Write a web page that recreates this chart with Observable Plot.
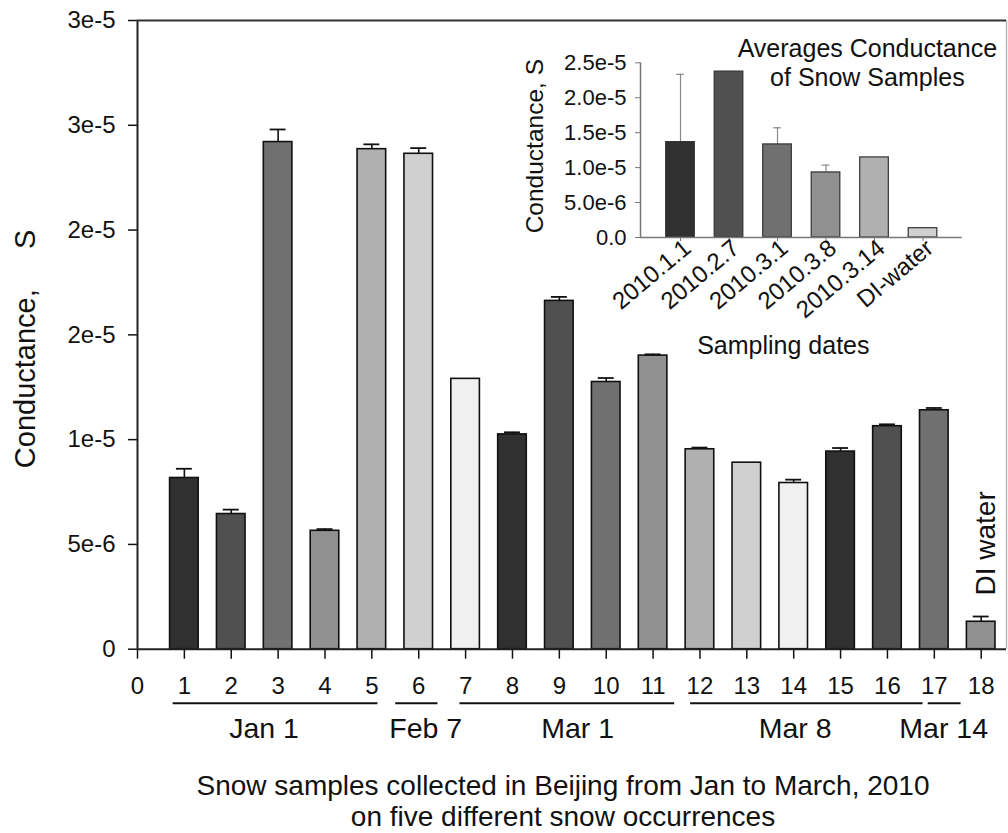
<!DOCTYPE html>
<html><head><meta charset="utf-8">
<script src="https://cdn.jsdelivr.net/npm/d3@7"></script>
<script src="https://cdn.jsdelivr.net/npm/@observablehq/plot@0.6"></script>
<style>
body{margin:0;background:#fff;}
#wrap{position:relative;width:1008px;height:833px;overflow:hidden;font-family:"Liberation Sans",Arial,sans-serif;background:#fff;}
#main,#inset{position:absolute;top:0;}
#main{left:0}
#inset{left:500px}
svg text{white-space:pre;}
#caption{position:absolute;left:100px;width:926px;top:770px;text-align:center;font-size:28px;line-height:31.3px;color:#111;}
</style></head><body>
<div id="wrap"><div id="main"></div><div id="inset"></div>
<div id="caption">Snow samples collected in Beijing from Jan to March, 2010<br>on five different snow occurrences</div></div>
<script>
// ---- main chart data ----
const samples = [1,2,3,4,5,6,7,8,9,10,11,12,13,14,15,16,17,18];
const conductance = [8.17e-6,6.45e-6,24.2e-6,5.65e-6,23.86e-6,23.64e-6,12.9e-6,10.25e-6,16.62e-6,12.75e-6,14.01e-6,9.54e-6,8.9e-6,7.93e-6,9.43e-6,10.64e-6,11.4e-6,1.31e-6];
const errors = [0.44e-6,0.21e-6,0.6e-6,0.08e-6,0.23e-6,0.27e-6,0,0.1e-6,0.19e-6,0.19e-6,0.06e-6,0.08e-6,0,0.16e-6,0.17e-6,0.09e-6,0.11e-6,0.25e-6];
const xTicks = [0,1,2,3,4,5,6,7,8,9,10,11,12,13,14,15,16,17,18];
const yTicks = [0,5e-6,1e-5,1.5e-5,2e-5,2.5e-5,3e-5];
const yTickLabels = ["0","5e-6","1e-5","2e-5","2e-5","3e-5","3e-5"];
const groupNames = ["Jan 1","Feb 7","Mar 1","Mar 8","Mar 14"];
const groupStart = [0.76,5.51,6.88,11.8,16.87];
const groupEnd = [5.13,6.41,11.46,16.76,17.57];
const groupLabelX = [2.7,6.15,9.39,14.03,17.2];
const palette = ["#303030","#505050","#707070","#909090","#b0b0b0","#d0d0d0","#f0f0f0"];
const xMax = 18.54;
const yMax = 3e-5;

// ---- inset data ----
const insetDates = ["2010.1.1","2010.2.7","2010.3.1","2010.3.8","2010.3.14","DI-water"];
const insetMeans = [13.65e-6,23.74e-6,13.32e-6,9.31e-6,11.46e-6,1.33e-6];
const insetErrors = [9.7e-6,0,2.38e-6,1.05e-6,0,0];
const insetYTicks = [0,5e-6,1e-5,1.5e-5,2e-5,2.5e-5];
const insetYTickLabels = ["0.0","5.0e-6","1.0e-5","1.5e-5","2.0e-5","2.5e-5"];
const insetXMin = -0.825, insetXMax = 5.808;

const FONT = '"Liberation Sans", Arial, sans-serif';
const data = samples.map((s,i)=>({s, v:conductance[i], e:errors[i], c:palette[i%palette.length]}));
const errData = data.filter(d=>d.e>0);
const groups = groupNames.map((n,i)=>({n, a:groupStart[i], b:groupEnd[i], lx:groupLabelX[i]}));

const main = Plot.plot({
  width:1008, height:760,
  marginLeft:137, marginRight:2, marginTop:20, marginBottom:760-648.7,
  x:{domain:[0,xMax], axis:null},
  y:{domain:[0,yMax], axis:null},
  color:{type:"identity"},
  style:{fontFamily:FONT, fontSize:"24px", color:"#111", background:"transparent", overflow:"visible"},
  marks:[
    Plot.axisY({ticks:yTicks, tickFormat:(d,i)=>yTickLabels[i], tickSize:9, tickPadding:13, strokeWidth:1.5, label:null, fontSize:24}),
    Plot.axisX({ticks:xTicks, tickFormat:d=>String(d), tickSize:10, tickPadding:18, strokeWidth:1.5, label:null, fontSize:24}),
    Plot.ruleX([xMax], {stroke:"#bbb", strokeWidth:1.5}),
    Plot.rect(data, {x1:d=>d.s-0.305, x2:d=>d.s+0.305, y1:0, y2:"v", fill:"c", stroke:"#111", strokeWidth:1.6}),
    Plot.ruleX(errData, {x:"s", y1:"v", y2:d=>d.v+d.e, stroke:"#111", strokeWidth:1.6}),
    Plot.ruleY(errData, {x1:d=>d.s-0.17, x2:d=>d.s+0.17, y:d=>d.v+d.e, stroke:"#111", strokeWidth:1.8}),
    Plot.ruleX([0], {stroke:"#222", strokeWidth:2}),
    Plot.ruleY([0], {stroke:"#222", strokeWidth:2}),
    Plot.ruleY([yMax], {stroke:"#333", strokeWidth:2}),
    Plot.ruleY(groups, {x1:"a", x2:"b", y:0, dy:54, stroke:"#111", strokeWidth:2}),
    Plot.text(groups, {x:"lx", y:0, text:"n", dy:89, lineAnchor:"bottom", fontSize:28.5, fill:"#111"}),
    Plot.text([data[data.length-1]], {x:"s", y:d=>d.v+d.e, text:()=>"DI water", rotate:-90, textAnchor:"start", lineAnchor:"bottom", dx:14, dy:-21, fontSize:28, fill:"#111"}),
    Plot.text(["Conductance,     S"], {frameAnchor:"left", text:d=>d, textAnchor:"middle", dx:-103, dy:14, rotate:-90, lineAnchor:"bottom", fontSize:29, fill:"#111"})
  ]
});
document.getElementById("main").appendChild(main);

const insetData = insetDates.map((d,i)=>({i, d, v:insetMeans[i], e:insetErrors[i], c:palette[i%palette.length]}));
const insetErr = insetData.filter(d=>d.e>0);
const inset = Plot.plot({
  width:508, height:370,
  marginLeft:140, marginRight:46.3, marginTop:62.3, marginBottom:133,
  x:{domain:[insetXMin,insetXMax], axis:null},
  y:{domain:[0,2.5e-5], axis:null},
  color:{type:"identity"},
  style:{fontFamily:FONT, fontSize:"22px", color:"#111", background:"transparent", overflow:"visible"},
  marks:[
    Plot.axisY({ticks:insetYTicks, tickFormat:(d,i)=>insetYTickLabels[i], tickSize:5, tickPadding:9, stroke:"#777", label:null, fontSize:22}),
    Plot.axisX({ticks:insetData.map(d=>d.i), tickFormat:()=>"", tickSize:4, stroke:"#777", label:null}),
    Plot.ruleY(insetErr, {x1:d=>d.i-0.08, x2:d=>d.i+0.08, y:d=>d.v+d.e, stroke:"#888", strokeWidth:1.2}),
    Plot.ruleX(insetErr, {x:"i", y1:"v", y2:d=>d.v+d.e, stroke:"#888", strokeWidth:1.2}),
    Plot.rect(insetData, {x1:d=>d.i-0.295, x2:d=>d.i+0.295, y1:0, y2:"v", fill:"c", stroke:"#333", strokeWidth:1.2}),
    Plot.ruleX([insetXMin], {stroke:"#777", strokeWidth:1.5}),
    Plot.ruleY([0], {stroke:"#777", strokeWidth:1.5}),
    Plot.text(insetData, {x:"i", y:0, text:"d", rotate:-40, textAnchor:"end", lineAnchor:"top", dx:1, dy:0, fontSize:24, fill:"#111"}),
    Plot.text(["Conductance, S"], {frameAnchor:"left", text:d=>d, textAnchor:"middle", dx:-98, dy:-4, rotate:-90, lineAnchor:"bottom", fontSize:24.5, fill:"#111"}),
    Plot.text(["Averages Conductance\nof Snow Samples"], {frameAnchor:"top", text:d=>d, dx:66, dy:22.7, lineAnchor:"bottom", lineHeight:1.13, fontSize:25, fill:"#111"}),
    Plot.text(["Sampling dates"], {frameAnchor:"bottom", text:d=>d, dx:-18, dy:116, lineAnchor:"bottom", fontSize:25, fill:"#111"})
  ]
});
document.getElementById("inset").appendChild(inset);
</script>
</body></html>
